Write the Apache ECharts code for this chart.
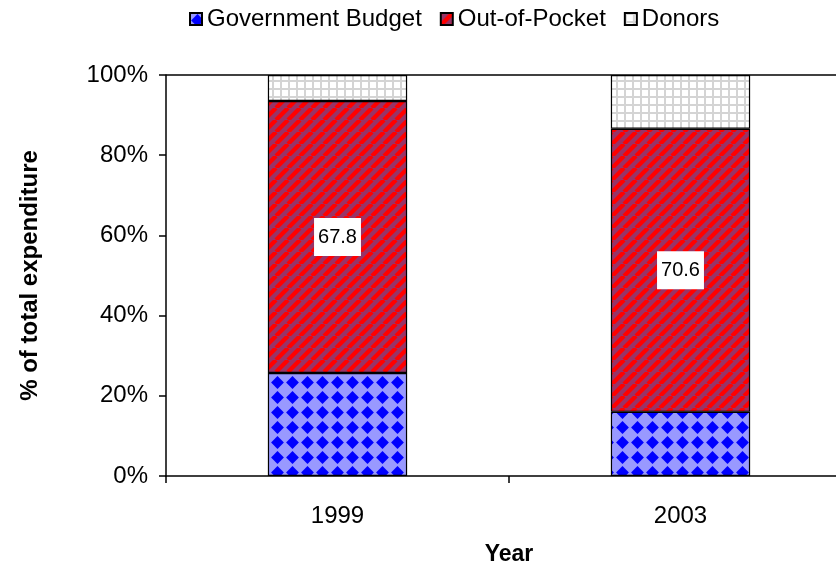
<!DOCTYPE html>
<html><head><meta charset="utf-8">
<script src="https://cdn.jsdelivr.net/npm/echarts@6/dist/echarts.min.js"></script>
<style>html,body{margin:0;padding:0;background:#fff;overflow:hidden}#c{width:836px;height:566px}</style>
</head><body><div id="c"></div>
<script>
var categories = ['1999', '2003'];
var seriesNames = ['Government Budget', 'Out-of-Pocket', 'Donors'];
var govBudget = [25.7, 16.0];
var outOfPocket = [67.8, 70.6];
var donors = [6.5, 13.4];
var yTicks = [0, 20, 40, 60, 80, 100];

function tile(size, draw) {
  var c = document.createElement('canvas');
  c.width = size; c.height = size;
  draw(c.getContext('2d'), size);
  return c;
}
var govPattern = tile(15, function (g, s) {
  g.fillStyle = '#9999ff'; g.fillRect(0, 0, s, s);
  g.fillStyle = '#0000ff';
  var cx = s / 2, cy = s / 2, r = 6.4;
  g.beginPath(); g.moveTo(cx, cy - r); g.lineTo(cx + r, cy); g.lineTo(cx, cy + r); g.lineTo(cx - r, cy); g.closePath(); g.fill();
});
var oopPattern = tile(12, function (g, s) {
  g.fillStyle = '#993366'; g.fillRect(0, 0, s, s);
  g.strokeStyle = '#ff0000'; g.lineWidth = 4.3;
  for (var k = -1; k <= 1; k++) {
    g.beginPath(); g.moveTo(k * s, s); g.lineTo(k * s + s, 0); g.stroke();
  }
});
var donPattern = tile(8, function (g, s) {
  g.fillStyle = '#ffffff'; g.fillRect(0, 0, s, s);
  g.fillStyle = '#d4d4d4';
  g.fillRect(0, 0, 2, s); g.fillRect(0, 0, s, 2);
});

var chart = echarts.init(document.getElementById('c'));
var font = 'Liberation Sans, Arial, sans-serif';
function mk(name, data, pattern, label) {
  return {
    name: name, type: 'bar', stack: 'total', data: data, barWidth: '40.6%',
    itemStyle: { color: { image: pattern, repeat: 'repeat' }, borderColor: '#000', borderWidth: 1.2 },
    label: label ? { show: true, position: 'inside', color: '#000', fontFamily: font, fontSize: 20,
      backgroundColor: '#fff', padding: [10, 4, 8, 4], formatter: function (p) { return p.value.toFixed(1); } } : { show: false },
    emphasis: { disabled: true }
  };
}
chart.setOption({
  animation: false,
  textStyle: { fontFamily: font },
  legend: {
    top: 2, left: 184, icon: 'rect', itemWidth: 12, itemHeight: 12, itemGap: 18,
    textStyle: { fontFamily: font, fontSize: 24, color: '#000' },
    data: seriesNames
  },
  grid: { left: 166, top: 75, width: 686, height: 401, outerBoundsMode: 'none', containLabel: false },
  xAxis: {
    type: 'category', data: categories,
    name: 'Year', nameLocation: 'middle', nameGap: 67,
    nameTextStyle: { fontFamily: font, fontSize: 23, fontWeight: 'bold', color: '#000' },
    axisLine: { lineStyle: { color: '#000', width: 1.5 } },
    axisTick: { show: true, length: 7, lineStyle: { color: '#000', width: 1.5 } },
    axisLabel: { fontFamily: font, fontSize: 24, color: '#000', margin: 28 }
  },
  yAxis: {
    type: 'value', min: yTicks[0], max: yTicks[yTicks.length - 1], interval: 20,
    name: '% of total expenditure', nameLocation: 'middle', nameGap: 124,
    nameTextStyle: { fontFamily: font, fontSize: 24, fontWeight: 'bold', color: '#000' },
    axisLine: { show: true, lineStyle: { color: '#000', width: 1.5 } },
    axisTick: { show: true, length: 7, lineStyle: { color: '#000', width: 1.5 } },
    axisLabel: { fontFamily: font, fontSize: 24, color: '#000', margin: 18, formatter: '{value}%' },
    splitLine: { show: true, lineStyle: { color: ['rgba(0,0,0,0)', 'rgba(0,0,0,0)', 'rgba(0,0,0,0)', 'rgba(0,0,0,0)', 'rgba(0,0,0,0)', '#000'], width: 1.5 } }
  },
  series: [
    mk(seriesNames[0], govBudget, govPattern, false),
    mk(seriesNames[1], outOfPocket, oopPattern, true),
    mk(seriesNames[2], donors, donPattern, false)
  ]
});
</script></body></html>
